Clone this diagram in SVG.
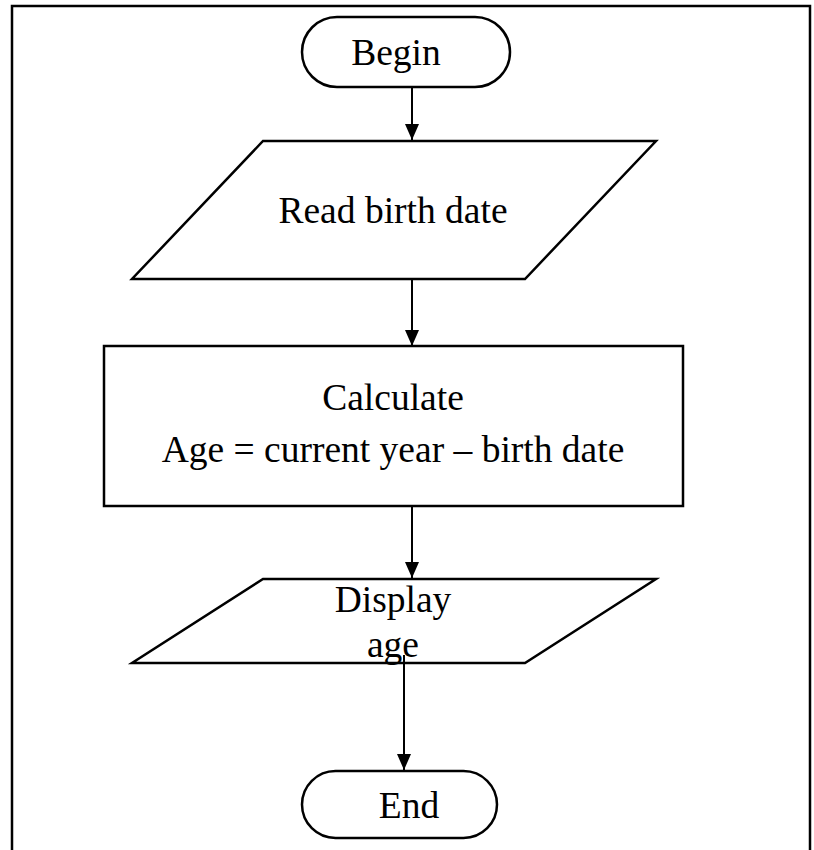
<svg xmlns="http://www.w3.org/2000/svg" width="814" height="850" viewBox="0 0 814 850">
<defs>
<style>
.shape{fill:#fff;stroke:#000;stroke-width:2.5}
.conn{stroke:#000;stroke-width:2;fill:none}
.lbl{font-family:"Liberation Serif","Times New Roman",serif;font-size:37.5px;fill:#000;text-anchor:middle}
</style>
<marker id="ah" viewBox="0 0 16 14" refX="16" refY="7" markerWidth="16" markerHeight="14" markerUnits="userSpaceOnUse" orient="auto">
<path d="M0,0 L16,7 L0,14 Z" fill="#000"/>
</marker>
</defs>
<rect width="814" height="850" fill="#fff"/>
<path d="M12,850 V6 H810 V850" fill="none" stroke="#000" stroke-width="2.5"/>
<g id="begin">
<rect class="shape" x="302" y="17" width="208" height="70" rx="35" ry="35"/>
<text class="lbl" x="396" y="65">Begin</text>
</g>
<g id="read">
<polygon class="shape" points="263,141 656,141 525,279 132,279"/>
<text class="lbl" x="393" y="223">Read birth date</text>
</g>
<g id="calc">
<rect class="shape" x="104" y="346" width="579" height="160"/>
<text class="lbl" x="393" y="410">Calculate</text>
<text class="lbl" x="393" y="462">Age = current year – birth date</text>
</g>
<g id="display">
<polygon class="shape" points="263,579 656,579 525,663 132,663"/>
<text class="lbl" x="393" y="612">Display</text>
<text class="lbl" x="393" y="657">age</text>
</g>
<g id="end">
<rect class="shape" x="302" y="771" width="195" height="67" rx="33.5" ry="33.5"/>
<text class="lbl" x="409" y="818">End</text>
</g>
<g id="connectors">
<line class="conn" x1="412" y1="87" x2="412" y2="140" marker-end="url(#ah)"/>
<line class="conn" x1="412" y1="279" x2="412" y2="346" marker-end="url(#ah)"/>
<line class="conn" x1="412" y1="506" x2="412" y2="578" marker-end="url(#ah)"/>
<line class="conn" x1="404" y1="655" x2="404" y2="770" marker-end="url(#ah)"/>
</g>
</svg>
